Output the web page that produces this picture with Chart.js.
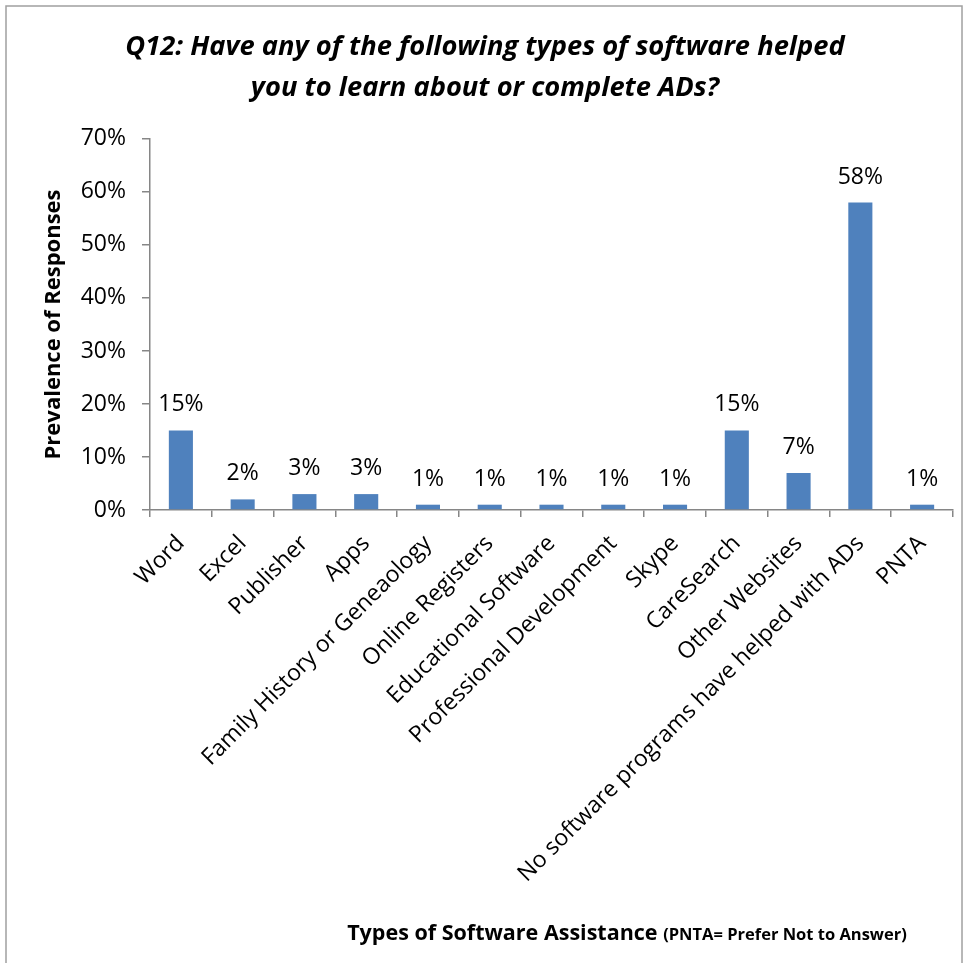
<!DOCTYPE html>
<html>
<head>
<meta charset="utf-8">
<script src="https://cdn.jsdelivr.net/npm/chart.js@4.4.1/dist/chart.umd.min.js"></script>
<style>
  html, body { margin: 0; padding: 0; background: #ffffff; }
  #wrap { width: 970px; height: 963px; }
</style>
</head>
<body>
<div id="wrap"><canvas id="softwareChart" width="970" height="963"></canvas></div>
<script>
// Q12 survey results
const categories = [
  'Word', 'Excel', 'Publisher', 'Apps', 'Family History or Geneaology',
  'Online Registers', 'Educational Software', 'Professional Development',
  'Skype', 'CareSearch', 'Other Websites',
  'No software programs have helped with ADs', 'PNTA'
];
const responses = [15, 2, 3, 3, 1, 1, 1, 1, 1, 15, 7, 58, 1];
const yTicks = [0, 10, 20, 30, 40, 50, 60, 70];

const titleLines = [
  'Q12: Have any of the following types of software helped',
  'you to learn about or complete ADs?'
];
const xTitleMain = 'Types of Software Assistance';
const xTitleNote = '(PNTA= Prefer Not to Answer)';

const FONT = "'Open Sans', 'Noto Sans', sans-serif";
const AXIS_GREY = '#868686';

// outer frame of the chart
const framePlugin = {
  id: 'frame',
  beforeDraw(chart) {
    const ctx = chart.ctx;
    ctx.save();
    ctx.strokeStyle = '#a0a0a0';
    ctx.lineWidth = 1.5;
    ctx.strokeRect(6, 6, 956, 975);
    ctx.restore();
  }
};

// percentage labels above each bar
const valueLabels = {
  id: 'valueLabels',
  afterDatasetsDraw(chart) {
    const ctx = chart.ctx;
    const meta = chart.getDatasetMeta(0);
    ctx.save();
    ctx.font = '23px ' + FONT;
    ctx.fillStyle = '#000000';
    ctx.textAlign = 'center';
    ctx.textBaseline = 'alphabetic';
    meta.data.forEach((bar, i) => {
      ctx.fillText(responses[i] + '%', bar.x, bar.y - 19);
    });
    ctx.restore();
  }
};

// x axis title with the smaller note after it
const xAxisTitle = {
  id: 'xAxisTitle',
  afterDraw(chart) {
    const ctx = chart.ctx;
    ctx.save();
    ctx.fillStyle = '#000000';
    ctx.textBaseline = 'alphabetic';
    ctx.font = 'bold 21.5px ' + FONT;
    const w1 = ctx.measureText(xTitleMain + ' ').width;
    ctx.font = 'bold 16.5px ' + FONT;
    const w2 = ctx.measureText(xTitleNote).width;
    const x0 = 627 - (w1 + w2) / 2;
    ctx.font = 'bold 21.5px ' + FONT;
    ctx.fillText(xTitleMain, x0, 940);
    ctx.font = 'bold 16.5px ' + FONT;
    ctx.fillText(xTitleNote, x0 + w1, 940);
    ctx.restore();
  }
};

const ctx = document.getElementById('softwareChart').getContext('2d');
new Chart(ctx, {
  type: 'bar',
  data: {
    labels: categories,
    datasets: [{
      data: responses,
      backgroundColor: '#4F81BD',
      borderWidth: 0,
      categoryPercentage: 1.0,
      barPercentage: 0.39
    }]
  },
  options: {
    responsive: false,
    animation: false,
    layout: { padding: { left: 17, right: 17, top: 0, bottom: 0 } },
    plugins: {
      legend: { display: false },
      tooltip: { enabled: false },
      title: {
        display: true,
        text: titleLines,
        color: '#000000',
        font: { family: FONT, size: 27.3, weight: 'bold', style: 'italic', lineHeight: 1.5 },
        padding: { top: 27, bottom: 30 }
      }
    },
    scales: {
      x: {
        afterFit(scale) { scale.height = 453; },
        border: { color: AXIS_GREY, width: 1.5 },
        grid: { drawOnChartArea: false, color: AXIS_GREY, tickLength: 7, lineWidth: 1.5 },
        ticks: {
          color: '#000000',
          font: { family: FONT, size: 23 },
          minRotation: 45,
          maxRotation: 45,
          autoSkip: false,
          padding: 13
        }
      },
      y: {
        min: 0,
        max: 70,
        afterFit(scale) { scale.width = 133; },
        afterBuildTicks(scale) { scale.ticks = yTicks.map(v => ({ value: v })); },
        border: { color: AXIS_GREY, width: 1.5 },
        grid: { drawOnChartArea: false, color: AXIS_GREY, tickLength: 8, lineWidth: 1.5 },
        ticks: {
          color: '#000000',
          font: { family: FONT, size: 23 },
          padding: 16,
          callback: v => v + '%'
        },
        title: {
          display: true,
          text: 'Prevalence of Responses',
          color: '#000000',
          font: { family: FONT, size: 22, weight: 'bold' },
          padding: { top: 24, bottom: 0 }
        }
      }
    }
  },
  plugins: [framePlugin, valueLabels, xAxisTitle]
});
</script>
</body>
</html>
